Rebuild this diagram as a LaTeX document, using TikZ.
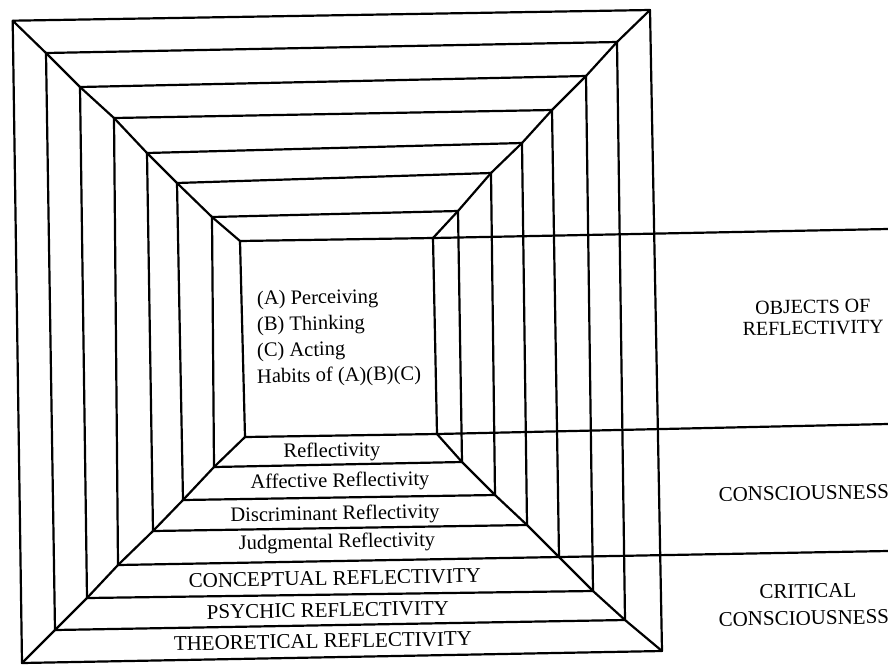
\documentclass[tikz,border=0pt]{standalone}
\usepackage{fontspec}
\setmainfont{Liberation Serif}
\begin{document}
\begin{tikzpicture}[x=1pt,y=-1pt,
  frame/.style={line width=2.2pt, line join=round, line cap=round},
  caplab/.style={anchor=base, rotate=1, inner sep=0pt, font=\fontsize{21}{21}\selectfont},
  twolab/.style={anchor=center, rotate=1, inner sep=0pt, align=center, font=\fontsize{20}{21}\selectfont},
  mixlab/.style={anchor=base, rotate=1, inner sep=0pt, font=\fontsize{20.5}{20.5}\selectfont},
  innerlab/.style={anchor=base west, rotate=1, inner sep=0pt, font=\fontsize{20.5}{20.5}\selectfont}]
\useasboundingbox (0,0) rectangle (888,665);
% corners: top-left, top-right, bottom-right, bottom-left of each frame
\coordinate (tl0) at (12.7,20.7); \coordinate (tr0) at (650,10);  \coordinate (br0) at (662,651); \coordinate (bl0) at (22,663);
\coordinate (tl1) at (46,53);     \coordinate (tr1) at (617,42);  \coordinate (br1) at (625,620); \coordinate (bl1) at (55,630);
\coordinate (tl2) at (80,87);     \coordinate (tr2) at (586,76);  \coordinate (br2) at (593,591); \coordinate (bl2) at (87,598);
\coordinate (tl3) at (114,118);   \coordinate (tr3) at (552,110); \coordinate (br3) at (559,557); \coordinate (bl3) at (118,565);
\coordinate (tl4) at (147,153);   \coordinate (tr4) at (522,143); \coordinate (br4) at (527,525); \coordinate (bl4) at (153,531);
\coordinate (tl5) at (177,183);   \coordinate (tr5) at (491,173); \coordinate (br5) at (495,495); \coordinate (bl5) at (183,500);
\coordinate (tl6) at (212,217);   \coordinate (tr6) at (458,211); \coordinate (br6) at (462,462); \coordinate (bl6) at (214,467);
\coordinate (tl7) at (240,241);   \coordinate (tr7) at (433,238); \coordinate (br7) at (437,434); \coordinate (bl7) at (245,437);
% right ends of the extension lines
\coordinate (e1) at (888,229);
\coordinate (e2) at (888,424);
\coordinate (e3) at (888,551);
% frames
\foreach \i in {0,...,7}
  \draw[frame] (tl\i) -- (tr\i) -- (br\i) -- (bl\i) -- cycle;
% diagonals
\draw[frame] (tl0) -- (tl1) -- (tl2) -- (tl3) -- (tl4) -- (tl5) -- (tl6) -- (tl7);
\draw[frame] (tr0) -- (tr1) -- (tr2) -- (tr3) -- (tr4) -- (tr5) -- (tr6) -- (tr7);
\draw[frame] (br0) -- (br1) -- (br2) -- (br3) -- (br4) -- (br5) -- (br6) -- (br7);
\draw[frame] (bl0) -- (bl1) -- (bl2) -- (bl3) -- (bl4) -- (bl5) -- (bl6) -- (bl7);
% extension lines
\draw[frame] (tr7) -- (e1);
\draw[frame] (br7) -- (e2);
\draw[frame] (br3) -- (e3);
% inner text
\node[innerlab] (ta) at (257,305) {(A) Perceiving};
\node[innerlab] (tb) at (257,331) {(B) Thinking};
\node[innerlab] (tc) at (257,357) {(C) Acting};
\node[innerlab] (th) at (257,383) {Habits of (A)(B)(C)};
% band labels
\node[mixlab] (b7) at (332,457) {Reflectivity};
\node[mixlab] (b6) at (340,487) {Affective Reflectivity};
\node[mixlab] (b5) at (335,520) {Discriminant Reflectivity};
\node[mixlab] (b4) at (337,548) {Judgmental Reflectivity};
\node[caplab] (b3) at (335,585) {CONCEPTUAL REFLECTIVITY};
\node[caplab] (b2) at (328,617) {PSYCHIC REFLECTIVITY};
\node[caplab] (b1) at (323,648) {THEORETICAL REFLECTIVITY};
% right labels
\node[twolab] (r1) at (813,317.5) {OBJECTS OF\\REFLECTIVITY};
\node[caplab] (r2) at (804,500) {CONSCIOUSNESS};
\node[caplab] (r3a) at (808,598) {CRITICAL};
\node[caplab] (r3b) at (804,625) {CONSCIOUSNESS};
\end{tikzpicture}
\end{document}
